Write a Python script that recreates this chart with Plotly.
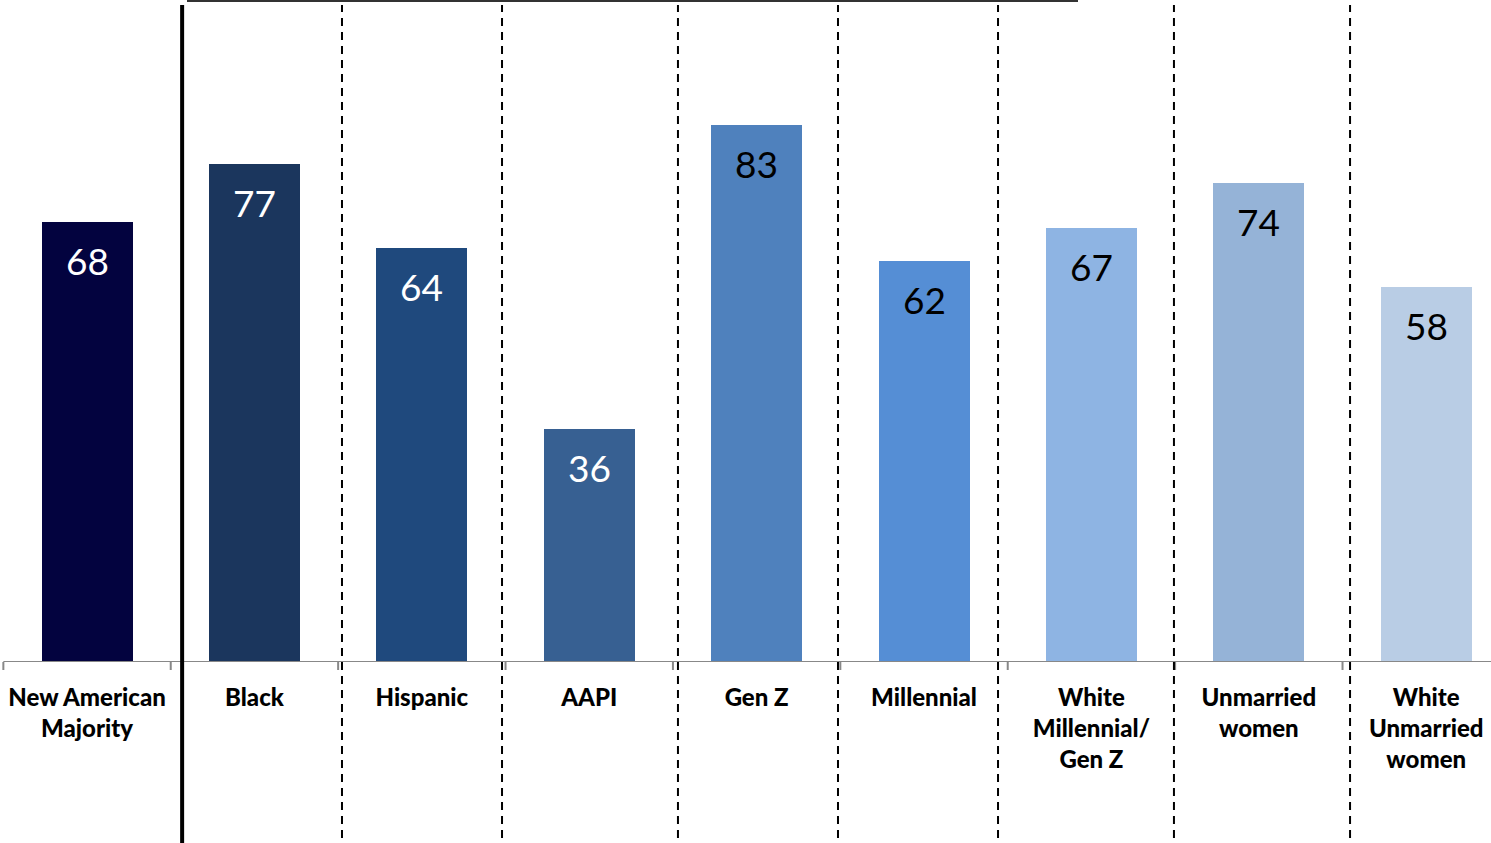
import plotly.graph_objects as go

categories = ["New American<br>Majority", "Black", "Hispanic", "AAPI", "Gen Z",
              "Millennial", "White<br>Millennial/<br>Gen Z", "Unmarried<br>women",
              "White<br>Unmarried<br>women"]
values = [68, 77, 64, 36, 83, 62, 67, 74, 58]
bar_colors = ["#03033f", "#1b365d", "#1f497d", "#376092", "#4f81bd",
              "#558ed5", "#8eb4e3", "#95b3d7", "#b9cde5"]
label_colors = ["white", "white", "white", "white", "black",
                "black", "black", "black", "black"]
separator_x = [1.523, 2.479, 3.530, 4.486, 5.442, 6.493, 7.545]
solid_x = 0.568

xs = list(range(len(categories)))
W, H = 1491, 843
FONT = "Lato, 'Open Sans', sans-serif"

fig = go.Figure()
fig.add_trace(go.Bar(
    x=xs, y=values, width=0.544,
    marker=dict(color=bar_colors, line=dict(width=0)),
    hoverinfo="skip",
))

for i, v in enumerate(values):
    fig.add_annotation(x=i, y=v, text=str(v), showarrow=False,
                       yanchor="top", yshift=-14,
                       font=dict(size=37, color=label_colors[i], family=FONT))

shapes = []
# axis line
shapes.append(dict(type="line", xref="x", yref="y", x0=-0.5, x1=9, y0=0, y1=0,
                   line=dict(color="#888888", width=2)))
# boundary ticks
for k in range(len(categories)):
    b = k - 0.5
    shapes.append(dict(type="line", xref="x", yref="paper", x0=b, x1=b,
                       y0=0, y1=-8 / 662, line=dict(color="#888888", width=2)))
# dashed separators
for s in separator_x:
    shapes.append(dict(type="line", xref="x", yref="paper", x0=s, x1=s,
                       y0=(662 - 838) / 662, y1=(662 - 5) / 662,
                       line=dict(color="black", width=2, dash="8px,6px")))
# solid separator
shapes.append(dict(type="line", xref="x", yref="paper", x0=solid_x, x1=solid_x,
                   y0=(662 - 845) / 662, y1=(662 - 5) / 662,
                   line=dict(color="black", width=4)))
# top line
shapes.append(dict(type="line", xref="paper", yref="paper", x0=187 / W, x1=1078 / W,
                   y0=(662 - 1) / 662, y1=(662 - 1) / 662,
                   line=dict(color="#333333", width=2)))

fig.update_layout(
    width=W, height=H,
    margin=dict(l=0, r=0, t=0, b=H - 662, pad=0),
    paper_bgcolor="white", plot_bgcolor="white",
    showlegend=False, shapes=shapes, bargap=0,
    xaxis=dict(range=[-0.52, 8.387], tickvals=xs, ticktext=categories,
               showgrid=False, zeroline=False, showline=False, ticks="",
               ticklabelstandoff=19,
               tickfont=dict(size=24, color="black", family=FONT, weight=900),
               fixedrange=True),
    yaxis=dict(range=[0, 102.3], visible=False, showgrid=False, fixedrange=True),
)

fig.write_html("out.html", config={"displayModeBar": False, "staticPlot": True},
               post_script="document.body.style.margin='0';document.body.style.overflow='hidden';")
